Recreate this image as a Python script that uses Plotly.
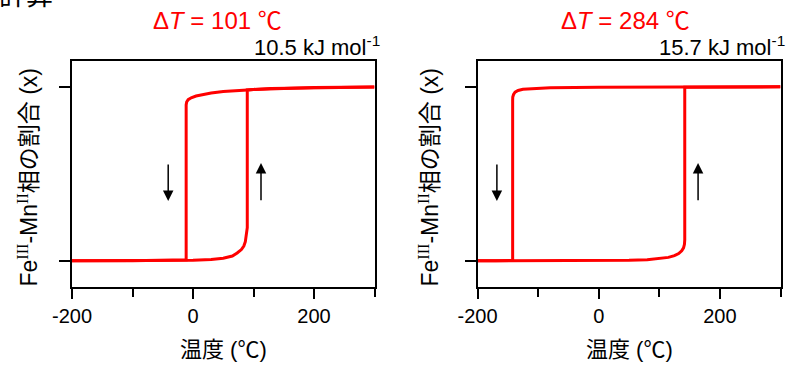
import plotly.graph_objects as go

# ---------------- data ----------------
# Left panel (ΔT = 101 ℃)
L_heat_T = [-200, -100, 0, 30, 50, 65, 73, 80, 84, 86.5, 88.5, 89.7, 89.7, 100, 150, 200, 300]
L_heat_x = [0.0, 0.0, 0.003, 0.008, 0.015, 0.028, 0.045, 0.065, 0.085, 0.11, 0.15, 0.19, 0.981, 0.984, 0.99, 0.995, 0.998]
L_cool_T = [300, 200, 128, 90, 50, 30, 15, 5, -3, -8, -10.5, -11.3, -11.3, -50, -100, -200]
L_cool_x = [0.998, 0.995, 0.99, 0.981, 0.972, 0.963, 0.955, 0.946, 0.936, 0.925, 0.912, 0.895, 0.006, 0.003, 0.001, 0.0]

# Right panel (ΔT = 284 ℃)
R_heat_T = [-200, -100, 0, 50, 80, 100, 115, 125, 132, 137, 140, 141.5, 142, 142, 200, 300]
R_heat_x = [0.0, 0.0, 0.001, 0.003, 0.007, 0.013, 0.02, 0.03, 0.042, 0.058, 0.075, 0.095, 0.12, 0.996, 0.998, 0.999]
R_cool_T = [300, 200, 100, 0, -80, -110, -125, -133, -138, -140.5, -141.8, -142, -142, -170, -200]
R_cool_x = [0.999, 0.999, 0.998, 0.997, 0.994, 0.99, 0.985, 0.978, 0.968, 0.955, 0.94, 0.92, 0.002, 0.001, 0.0]

titles = ["Δ<i>T</i> = 101 ℃", "Δ<i>T</i> = 284 ℃"]
energies = ["10.5 kJ mol<sup>-1</sup>", "15.7 kJ mol<sup>-1</sup>"]
x_ticks = [-200, 0, 200]
x_title = "温度 (℃)"
y_title = ("Fe<sup><span style='font-family:Liberation Serif'>III</span></sup>-Mn"
           "<sup><span style='font-family:Liberation Serif'>II</span></sup>相の割合 (x)")

# arrows: (x, y_tail, y_tip)
L_arrows = [(-41, 0.562, 0.344), (112.4, 0.339, 0.562)]
R_arrows = [(-168, 0.562, 0.344), (164, 0.339, 0.562)]

# ---------------- figure ----------------
W, H = 786, 365
FONT = "Liberation Sans, Noto Sans CJK JP, sans-serif"
RED = "#ff0000"

def px(x):
    return x / W

def py(y):
    return 1 - y / H

fig = go.Figure()
for T, X, ax in [(L_heat_T, L_heat_x, "x"), (L_cool_T, L_cool_x, "x"),
                 (R_heat_T, R_heat_x, "x2"), (R_cool_T, R_cool_x, "x2")]:
    fig.add_trace(go.Scatter(x=T, y=X, mode="lines", xaxis=ax,
                             yaxis="y" if ax == "x" else "y2",
                             line=dict(color=RED, width=3), showlegend=False,
                             hoverinfo="skip"))

xdoms = [[px(72), px(374.5)], [px(477.5), px(780.5)]]
ydom = [py(287), py(60.5)]

common_x = dict(range=[-200, 300], tickvals=x_ticks, ticktext=[str(v) for v in x_ticks],
                showline=True, mirror=True, linecolor="black", linewidth=2,
                ticks="outside", ticklen=10, tickwidth=2, tickcolor="black",
                minor=dict(tickvals=[-100, 100, 300], ticks="outside", ticklen=8,
                           tickwidth=2, tickcolor="black", showgrid=False),
                showgrid=False, zeroline=False, automargin=False,
                tickfont=dict(size=20, color="black", family=FONT))
common_y = dict(range=[-0.15, 1.15], tickvals=[0, 1], showticklabels=False,
                showline=True, mirror=True, linecolor="black", linewidth=2,
                ticks="outside", ticklen=11, tickwidth=2, tickcolor="black",
                showgrid=False, zeroline=False, automargin=False)

fig.update_layout(
    template="none",
    width=W, height=H,
    margin=dict(l=0, r=0, t=0, b=0, pad=0),
    paper_bgcolor="white", plot_bgcolor="white",
    font=dict(family=FONT, size=20, color="black"),
    xaxis=dict(domain=xdoms[0], anchor="y", **common_x),
    yaxis=dict(domain=ydom, anchor="x", **common_y),
    xaxis2=dict(domain=xdoms[1], anchor="y2", **common_x),
    yaxis2=dict(domain=ydom, anchor="x2", **common_y),
)

ann = []
# top-left clipped label
ann.append(dict(text="計算", x=px(-3), y=py(13), xref="paper", yref="paper",
                xanchor="left", yanchor="bottom", showarrow=False,
                font=dict(size=27, color="black", family=FONT)))
centers_title = [217, 625]
right_edges = [382, 787]
ycenters = [177.5, 177.5]
ytitle_x = [28, 429]
xtitle_x = [223, 629]
for i in range(2):
    ann.append(dict(text=titles[i], x=px(centers_title[i]), y=py(21), xref="paper", yref="paper",
                    xanchor="center", yanchor="middle", showarrow=False,
                    font=dict(size=24, color=RED, family=FONT)))
    ann.append(dict(text=energies[i], x=px(right_edges[i]), y=py(46), xref="paper", yref="paper",
                    xanchor="right", yanchor="middle", showarrow=False,
                    font=dict(size=22, color="black", family=FONT)))
    ann.append(dict(text=y_title, x=px(ytitle_x[i]), y=py(ycenters[i]), xref="paper", yref="paper",
                    xanchor="center", yanchor="middle", textangle=-90, showarrow=False,
                    font=dict(size=23, color="black", family=FONT)))
    ann.append(dict(text=x_title, x=px(xtitle_x[i]), y=py(349), xref="paper", yref="paper",
                    xanchor="center", yanchor="middle", showarrow=False,
                    font=dict(size=22, color="black", family=FONT)))

for arrows, xr, yr in [(L_arrows, "x", "y"), (R_arrows, "x2", "y2")]:
    for (xa, ytail, ytip) in arrows:
        ann.append(dict(text="", x=xa, y=ytip, ax=xa, ay=ytail, xref=xr, yref=yr,
                        axref=xr, ayref=yr, showarrow=True, arrowhead=2,
                        arrowsize=1.4, arrowwidth=1.5, arrowcolor="black", standoff=0))

fig.update_layout(annotations=ann)
fig.write_html("out.html")
